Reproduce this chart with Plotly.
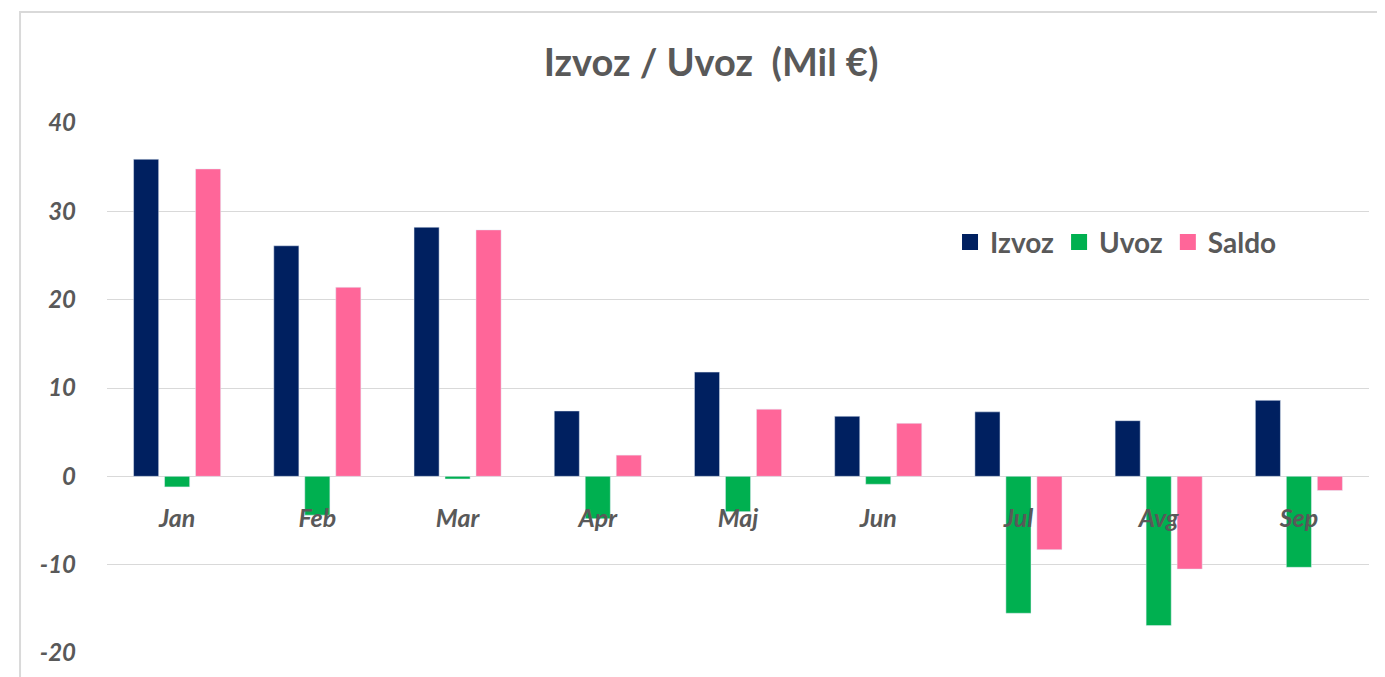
import plotly.graph_objects as go

months = ["Jan", "Feb", "Mar", "Apr", "Maj", "Jun", "Jul", "Avg", "Sep"]
izvoz = [35.9, 26.1, 28.2, 7.4, 11.8, 6.8, 7.3, 6.3, 8.6]
uvoz = [-1.2, -4.4, -0.3, -4.8, -4.0, -0.9, -15.5, -16.9, -10.3]
saldo = [34.8, 21.4, 27.9, 2.4, 7.6, 6.0, -8.3, -10.5, -1.6]

y_ticks = [-20, -10, 0, 10, 20, 30, 40]
y_ticktext = ["-20", "-10", "0", "10", "20", "30", "40"]

series = [("Izvoz", izvoz, "#002060"), ("Uvoz", uvoz, "#00b050"), ("Saldo", saldo, "#ff6699")]

grey = "#595959"
font_main = "Lato"

fig = go.Figure()
for name, vals, col in series:
    fig.add_trace(go.Bar(x=months, y=vals, name=name, marker=dict(color=col),
                         showlegend=False, legendgroup=name))
# bigger square legend keys
for name, vals, col in series:
    fig.add_trace(go.Scatter(x=[None], y=[None], mode="markers", name=name,
                             legendgroup=name,
                             marker=dict(symbol="square", size=16, color=col)))

fig.update_layout(
    width=1385, height=677,
    margin=dict(l=99, r=24, t=115, b=32),
    paper_bgcolor="white",
    plot_bgcolor="white",
    barmode="group",
    bargap=0.337,
    bargroupgap=0.19,
    font=dict(family=font_main, color=grey),
    title=dict(
        text="<b>Izvoz / Uvoz  (Mil €)</b>",
        font=dict(size=38, color=grey, family=font_main),
        xref="container", x=0.5076, xanchor="center",
        yref="container", y=0.9188, yanchor="middle",
    ),
    legend=dict(
        orientation="h",
        xref="paper", x=0.668, xanchor="left",
        yref="paper", y=0.775, yanchor="middle",
        font=dict(size=28, color=grey, family=font_main, weight="bold"),
        bgcolor="rgba(0,0,0,0)",
        itemwidth=30,
        traceorder="normal",
    ),
    xaxis=dict(
        anchor="free",
        position=0.334,
        showgrid=False,
        showline=False,
        ticks="",
        tickfont=dict(size=25, color=grey, family=font_main, weight="bold", style="italic"),
        ticklabelstandoff=25,
    ),
    yaxis=dict(
        range=[-20, 40],
        tickvals=y_ticks,
        ticktext=y_ticktext,
        showgrid=True,
        gridcolor="#d9d9d9",
        gridwidth=1,
        zeroline=True,
        zerolinecolor="#d9d9d9",
        zerolinewidth=1,
        showline=False,
        ticks="",
        tickfont=dict(size=24, color=grey, family=font_main, weight="bold", style="italic"),
        ticklabelstandoff=30,
    ),
    shapes=[
        dict(type="rect", xref="paper", yref="paper",
             x0=-0.0689, x1=1.1, y0=-0.2, y1=1.2094,
             line=dict(color="#d9d9d9", width=2), fillcolor="rgba(0,0,0,0)", layer="below"),
    ],
)

fig.write_html("out.html")
